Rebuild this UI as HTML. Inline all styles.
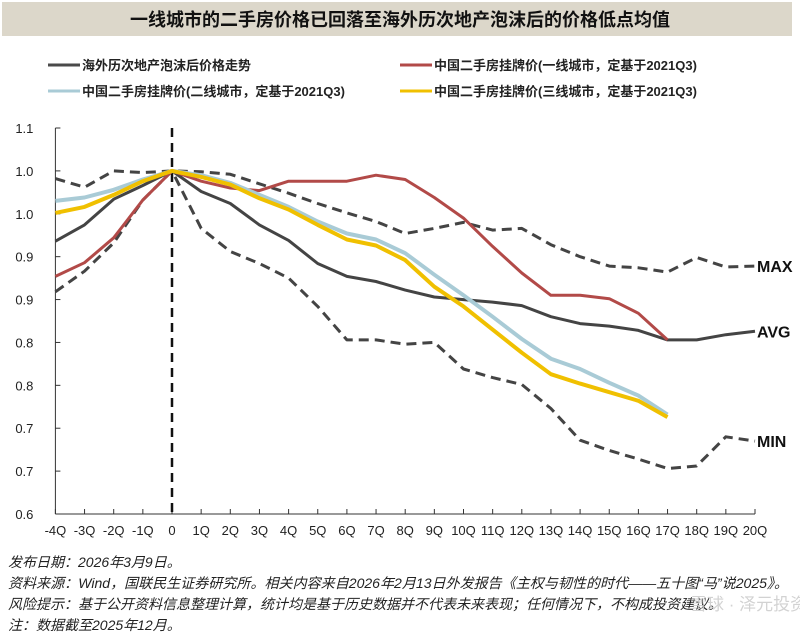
<!DOCTYPE html>
<html><head><meta charset="utf-8"><style>
body{margin:0;background:#fff;}
svg text{font-family:"Liberation Sans","Noto Sans CJK SC",sans-serif;}
</style></head><body>
<svg id="chart" width="800" height="633" xmlns="http://www.w3.org/2000/svg">
<rect x="2" y="2" width="790" height="34" fill="#dcd7ca"/>
<text x="400" y="26" text-anchor="middle" font-size="18" font-weight="bold" fill="#111">一线城市的二手房价格已回落至海外历次地产泡沫后的价格低点均值</text>
<g font-size="13" font-weight="bold" fill="#222">
<g><line x1="48" y1="65" x2="80" y2="65" stroke="#4a4a4a" stroke-width="3"/><text x="82" y="70">海外历次地产泡沫后价格走势</text></g>
<g><line x1="400" y1="65" x2="432" y2="65" stroke="#b24a48" stroke-width="3"/><text x="434" y="70">中国二手房挂牌价(一线城市，定基于2021Q3)</text></g>
<g><line x1="48" y1="91" x2="80" y2="91" stroke="#a9cbd6" stroke-width="3"/><text x="82" y="96">中国二手房挂牌价(二线城市，定基于2021Q3)</text></g>
<g><line x1="400" y1="91" x2="432" y2="91" stroke="#f0c000" stroke-width="3"/><text x="434" y="96">中国二手房挂牌价(三线城市，定基于2021Q3)</text></g>
</g>
<g id="plot"></g>
<g font-size="14" font-style="italic" fill="#222">
<text x="8" y="567">发布日期：2026年3月9日。</text>
<text x="8" y="588" textLength="780" lengthAdjust="spacingAndGlyphs">资料来源：Wind，国联民生证券研究所。相关内容来自2026年2月13日外发报告《主权与韧性的时代——五十图“马”说2025》。</text>
<text x="8" y="609">风险提示：基于公开资料信息整理计算，统计均是基于历史数据并不代表未来表现；任何情况下，不构成投资建议。</text>
<text x="8" y="630">注：数据截至2025年12月。</text>
</g>
<text x="690" y="610" font-size="17" fill="#c8c8c8" opacity="0.8">雪球 · 泽元投资</text>
</svg>
<script>
const xLabels=["-4Q","-3Q","-2Q","-1Q","0","1Q","2Q","3Q","4Q","5Q","6Q","7Q","8Q","9Q","10Q","11Q","12Q","13Q","14Q","15Q","16Q","17Q","18Q","19Q","20Q"];
const yTicks=[1.05,1.0,0.95,0.9,0.85,0.8,0.75,0.7,0.65,0.6];
const maxVals=[0.991,0.981,1.0,0.998,1.0,0.999,0.996,0.985,0.974,0.962,0.951,0.941,0.927,0.933,0.940,0.931,0.933,0.914,0.900,0.889,0.887,0.882,0.899,0.888,0.889];
const avgVals=[0.918,0.937,0.967,0.983,1.0,0.976,0.962,0.937,0.919,0.892,0.877,0.871,0.861,0.853,0.850,0.847,0.843,0.830,0.822,0.819,0.814,0.803,0.803,0.809,0.813];
const minVals=[0.859,0.883,0.916,0.966,1.0,0.933,0.906,0.892,0.875,0.842,0.803,0.803,0.798,0.800,0.769,0.759,0.751,0.723,0.686,0.674,0.664,0.653,0.656,0.690,0.685];
const tier1Vals=[0.877,0.893,0.922,0.966,1.0,0.988,0.980,0.977,0.988,0.988,0.988,0.995,0.990,0.969,0.945,0.912,0.881,0.855,0.855,0.851,0.834,0.803];
const tier2Vals=[0.965,0.969,0.978,0.990,1.0,0.995,0.986,0.972,0.958,0.941,0.927,0.920,0.904,0.879,0.855,0.830,0.804,0.781,0.769,0.753,0.738,0.716];
const tier3Vals=[0.951,0.958,0.972,0.988,1.0,0.993,0.984,0.968,0.955,0.937,0.920,0.913,0.896,0.865,0.842,0.815,0.788,0.763,0.752,0.742,0.732,0.713];
const NS="http://www.w3.org/2000/svg";
const X0=55.4,DX=29.15,YTOP=1.05,YBOT=0.6,PT=128,PB=514;
function xs(i){return X0+i*DX;}
function ys(v){return PT+(YTOP-v)/(YTOP-YBOT)*(PB-PT);}
const plot=document.getElementById('plot');
function mk(tag,attrs){const e=document.createElementNS(NS,tag);for(const k in attrs)e.setAttribute(k,attrs[k]);plot.appendChild(e);return e;}
const ya=mk('line',{x1:X0,y1:PT,x2:X0,y2:PB,stroke:'#333','stroke-width':1});


const xa=mk('line',{x1:X0,y1:PB,x2:xs(xLabels.length-1),y2:PB,stroke:'#333','stroke-width':1});


yTicks.forEach(v=>{
  mk('line',{x1:X0,y1:ys(v),x2:X0+5,y2:ys(v),stroke:'#333'});
  const t=mk('text',{x:X0-22,y:ys(v)+5,'text-anchor':'end','font-size':13,fill:'#222'});
  t.textContent=(Math.round(v*10+1e-9)/10).toFixed(1);
  
  
});
xLabels.forEach((l,i)=>{
  mk('line',{x1:xs(i),y1:PB,x2:xs(i),y2:PB-5,stroke:'#333'});
  const t=mk('text',{x:xs(i),y:PB+21,'text-anchor':'middle','font-size':13,fill:'#222'});
  t.textContent=l;
  
  
});
const zx=xs(4);
const zl=mk('line',{x1:zx,y1:PT,x2:zx,y2:PB,stroke:'#111','stroke-width':2.5,'stroke-dasharray':'9,6'});


function series(vals,color,w,dash,name){
  const d=vals.map((v,i)=>(i?'L':'M')+xs(i).toFixed(1)+','+ys(v).toFixed(1)).join(' ');
  const p=mk('path',{d:d,fill:'none',stroke:color,'stroke-width':w,'stroke-linejoin':'round'});
  if(dash)p.setAttribute('stroke-dasharray',dash);
  
  
}
series(maxVals,'#444',3,'10,6','max-line');
series(minVals,'#444',3,'10,6','min-line');
series(avgVals,'#444',3,null,'avg-line');
series(tier1Vals,'#b24a48',3,null,'tier1-line');
series(tier2Vals,'#a9cbd6',4,null,'tier2-line');
series(tier3Vals,'#f0c000',4,null,'tier3-line');
function endLabel(vals,txt,name){
  const t=mk('text',{x:xs(vals.length-1)+2,y:ys(vals[vals.length-1])+6,'font-size':16,'font-weight':'bold',fill:'#111'});
  t.textContent=txt;
  
  
}
endLabel(maxVals,'MAX','max-label');
endLabel(avgVals,'AVG','avg-label');
endLabel(minVals,'MIN','min-label');
</script>
</body></html>
